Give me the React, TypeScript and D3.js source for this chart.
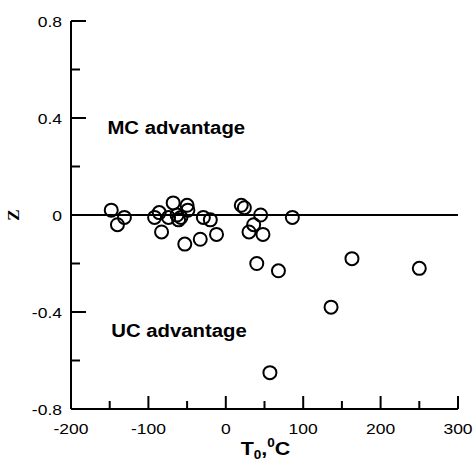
import React, { useEffect, useRef } from 'react';
import * as d3 from 'd3';

// T0 (°C) and Z values
const tValues = [-148, -140, -131, -92, -86, -83, -74, -68, -63, -61, -58, -50, -49, -53, -33, -29, -20, -12,
  20, 24, 30, 36, 45, 48, 40, 68, 86, 57, 136, 163, 250];
const zValues = [0.02, -0.04, -0.01, -0.01, 0.01, -0.07, -0.01, 0.05, 0.0, -0.02, -0.01, 0.04, 0.02, -0.12, -0.1, -0.01, -0.02, -0.08,
  0.04, 0.03, -0.07, -0.04, 0.0, -0.08, -0.2, -0.23, -0.01, -0.65, -0.38, -0.18, -0.22];

const xMajor = [-200, -100, 0, 100, 200, 300];
const xMinor = [-150, -50, 50, 150, 250];
const yMajor = [0.8, 0.4, 0, -0.4, -0.8];
const yMinor = [0.6, 0.2, -0.2, -0.6];

const annotations = [
  { text: 'MC advantage', t: -153, z: 0.334 },
  { text: 'UC advantage', t: -148, z: -0.502 },
];

const W = 473, H = 463;
const margin = { left: 71, right: 15, top: 21, bottom: 54 };
const SX = 1.13; // text in the original is a bit stretched horizontally

const App = () => {
  const svgRef = useRef<SVGSVGElement>(null);

  useEffect(() => {
    const svg = d3.select(svgRef.current);
    svg.selectAll('*').remove();

    const x = d3.scaleLinear().domain([-200, 300]).range([margin.left, W - margin.right]);
    const y = d3.scaleLinear().domain([-0.8, 0.8]).range([H - margin.bottom, margin.top]);

    const font = "'Liberation Sans', Arial, sans-serif";
    const fmt = (d: number) => String(d);

    // left axis, ticks pointing inward
    const yAxis = svg.append('g').attr('transform', `translate(${x(-200)},0)`);
    yAxis.append('line').attr('y1', y(0.8)).attr('y2', y(-0.8)).attr('stroke', '#000').attr('stroke-width', 2);
    yAxis.selectAll('line.maj').data(yMajor).join('line').attr('class', 'maj')
      .attr('x1', 0).attr('x2', 15).attr('y1', d => y(d)).attr('y2', d => y(d))
      .attr('stroke', '#000').attr('stroke-width', 2);
    yAxis.selectAll('line.min').data(yMinor).join('line').attr('class', 'min')
      .attr('x1', 0).attr('x2', 9).attr('y1', d => y(d)).attr('y2', d => y(d))
      .attr('stroke', '#000').attr('stroke-width', 2);
    yAxis.selectAll('text').data(yMajor).join('text')
      .attr('transform', d => `translate(-9,${y(d)}) scale(${SX},1)`).attr('dy', '0.36em')
      .attr('text-anchor', 'end').style('font-family', font).style('font-size', '15.5px')
      .text(fmt);

    // bottom axis, ticks pointing up
    const xAxis = svg.append('g').attr('transform', `translate(0,${y(-0.8)})`);
    xAxis.append('line').attr('x1', x(-200)).attr('x2', x(300)).attr('stroke', '#000').attr('stroke-width', 2);
    xAxis.selectAll('line.maj').data(xMajor).join('line').attr('class', 'maj')
      .attr('x1', d => x(d)).attr('x2', d => x(d)).attr('y1', 0).attr('y2', -13)
      .attr('stroke', '#000').attr('stroke-width', 2);
    xAxis.selectAll('line.min').data(xMinor).join('line').attr('class', 'min')
      .attr('x1', d => x(d)).attr('x2', d => x(d)).attr('y1', 0).attr('y2', -8)
      .attr('stroke', '#000').attr('stroke-width', 2);
    xAxis.selectAll('text').data(xMajor).join('text')
      .attr('transform', d => `translate(${x(d)},24.5) scale(${SX},1)`)
      .attr('text-anchor', 'middle').style('font-family', font).style('font-size', '15.5px')
      .text(fmt);

    // zero line
    svg.append('line').attr('x1', x(-200)).attr('x2', x(300)).attr('y1', y(0)).attr('y2', y(0))
      .attr('stroke', '#000').attr('stroke-width', 2);

    // points
    svg.append('g').selectAll('circle').data(tValues.map((t, i) => [t, zValues[i]]))
      .join('circle')
      .attr('cx', d => x(d[0])).attr('cy', d => y(d[1])).attr('r', 6.5)
      .attr('fill', 'none').attr('stroke', '#000').attr('stroke-width', 2);

    // annotations
    svg.selectAll('text.ann').data(annotations).join('text').attr('class', 'ann')
      .attr('transform', d => `translate(${x(d.t)},${y(d.z)}) scale(${SX},1)`)
      .style('font-family', font).style('font-size', '18px').style('font-weight', 'bold')
      .text(d => d.text);

    // axis titles
    svg.append('text')
      .attr('transform', `translate(19,${y(0)}) rotate(-90)`)
      .attr('text-anchor', 'middle')
      .style('font-family', "'Liberation Serif', 'Times New Roman', serif")
      .style('font-size', '17px').style('font-weight', 'bold')
      .text('Z');

    const xt = svg.append('text')
      .attr('transform', `translate(${(x(-200) + x(300)) / 2 + 1},${H - 8}) scale(${SX},1)`)
      .attr('text-anchor', 'middle')
      .style('font-family', font).style('font-size', '19px').style('font-weight', 'bold');
    xt.append('tspan').text('T');
    xt.append('tspan').attr('dy', 4).style('font-size', '12px').text('0');
    xt.append('tspan').attr('dy', -4).text(',');
    xt.append('tspan').attr('dy', -8).style('font-size', '12px').text('0');
    xt.append('tspan').attr('dy', 8).text('C');
  }, []);

  return (
    <svg ref={svgRef} width={W} height={H}
      style={{ position: 'absolute', left: 0, top: 0, background: '#fff' }} />
  );
};

export default App;
